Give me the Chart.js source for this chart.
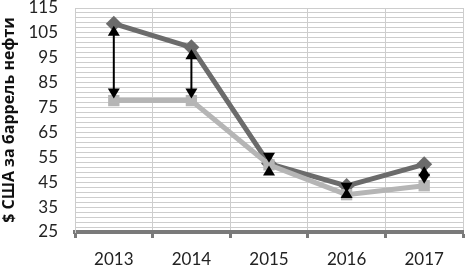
<!DOCTYPE html>
<html>
<head>
<meta charset="utf-8">
<script src="https://cdn.jsdelivr.net/npm/chart.js@4.4.0/dist/chart.umd.min.js"></script>
<style>
  html, body { margin: 0; padding: 0; background: #fff; }
  #wrap { width: 471px; height: 266px; }
</style>
</head>
<body>
<div id="wrap"><canvas id="oil"></canvas></div>
<script>
// years and prices, $ per barrel
const years = ['2013', '2014', '2015', '2016', '2017'];
const priceHigh = [108.7, 99.2, 52.5, 43.5, 52.2];
const priceLow = [77.8, 77.8, 52.0, 40.0, 43.6];
const yTitle = '$ США за баррель нефти';

// double-headed arrows between the two lines
const gapArrows = {
    id: 'gapArrows',
    afterDatasetsDraw(chart) {
        const ctx = chart.ctx;
        const xs = chart.scales.x, ys = chart.scales.y;
        const hh = 10, hw = 6, inset = 2;
        ctx.save();
        ctx.fillStyle = '#000';
        ctx.strokeStyle = '#000';
        ctx.lineWidth = 2;
        years.forEach((y, i) => {
            const x = xs.getPixelForValue(i);
            const top = ys.getPixelForValue(priceHigh[i]) + inset;
            const bot = ys.getPixelForValue(priceLow[i]) - inset;
            if (bot - top > 2 * hh) {
                ctx.beginPath();
                ctx.moveTo(x, top + hh - 1);
                ctx.lineTo(x, bot - hh + 1);
                ctx.stroke();
            }
            ctx.beginPath();
            ctx.moveTo(x, top);
            ctx.lineTo(x - hw, top + hh);
            ctx.lineTo(x + hw, top + hh);
            ctx.closePath();
            ctx.fill();
            ctx.beginPath();
            ctx.moveTo(x, bot);
            ctx.lineTo(x - hw, bot - hh);
            ctx.lineTo(x + hw, bot - hh);
            ctx.closePath();
            ctx.fill();
        });
        ctx.restore();
    }
};

let chart = new Chart(document.querySelector('#oil').getContext('2d'), {
    type: 'line',
    data: {
        labels: years,
        datasets: [{
            label: 'low',
            data: priceLow,
            borderColor: '#b5b5b5',
            backgroundColor: '#b5b5b5',
            borderWidth: 5,
            pointStyle: 'rect',
            pointRadius: 8,
            pointBorderWidth: 0,
            order: 1
        },
        {
            label: 'high',
            data: priceHigh,
            borderColor: '#6b6b6b',
            backgroundColor: '#6b6b6b',
            borderWidth: 5,
            pointStyle: 'rectRot',
            pointRadius: 8,
            pointBorderWidth: 0,
            order: 2
        }]
    },
    options: {
        responsive: true,
        maintainAspectRatio: false,
        animation: false,
        layout: { padding: { top: 7, right: 3, left: 0, bottom: 0 } },
        plugins: {
            legend: { display: false },
            tooltip: { enabled: false }
        },
        scales: {
            x: {
                offset: true,
                grid: {
                    offset: true,
                    color: '#cdcdcd',
                    lineWidth: 1,
                    tickLength: 6,
                    tickColor: '#7a7a7a',
                    tickWidth: 3
                },
                border: { color: '#7a7a7a', width: 4 },
                ticks: {
                    color: '#222',
                    font: { family: 'Lato', size: 17 },
                    padding: 11
                },
                afterFit: s => { s.height = 34; s.paddingLeft = 0; s.paddingRight = 0; }
            },
            y: {
                min: 25,
                max: 115,
                grid: { color: '#cdcdcd', lineWidth: 1, drawTicks: false },
                border: { color: '#cdcdcd' },
                ticks: {
                    stepSize: 2,
                    autoSkip: false,
                    color: '#222',
                    font: { family: 'Lato', size: 17 },
                    padding: 17,
                    callback: v => ((v - 25) % 10 === 0 ? v : '')
                },
                title: {
                    display: true,
                    text: yTitle,
                    color: '#111',
                    font: { family: 'Open Sans', size: 16, weight: 'bold' },
                    padding: 0
                },
                afterFit: s => { s.width = 75; s.paddingTop = 0; s.paddingBottom = 0; }
            }
        }
    },
    plugins: [gapArrows]
});
</script>
</body>
</html>
